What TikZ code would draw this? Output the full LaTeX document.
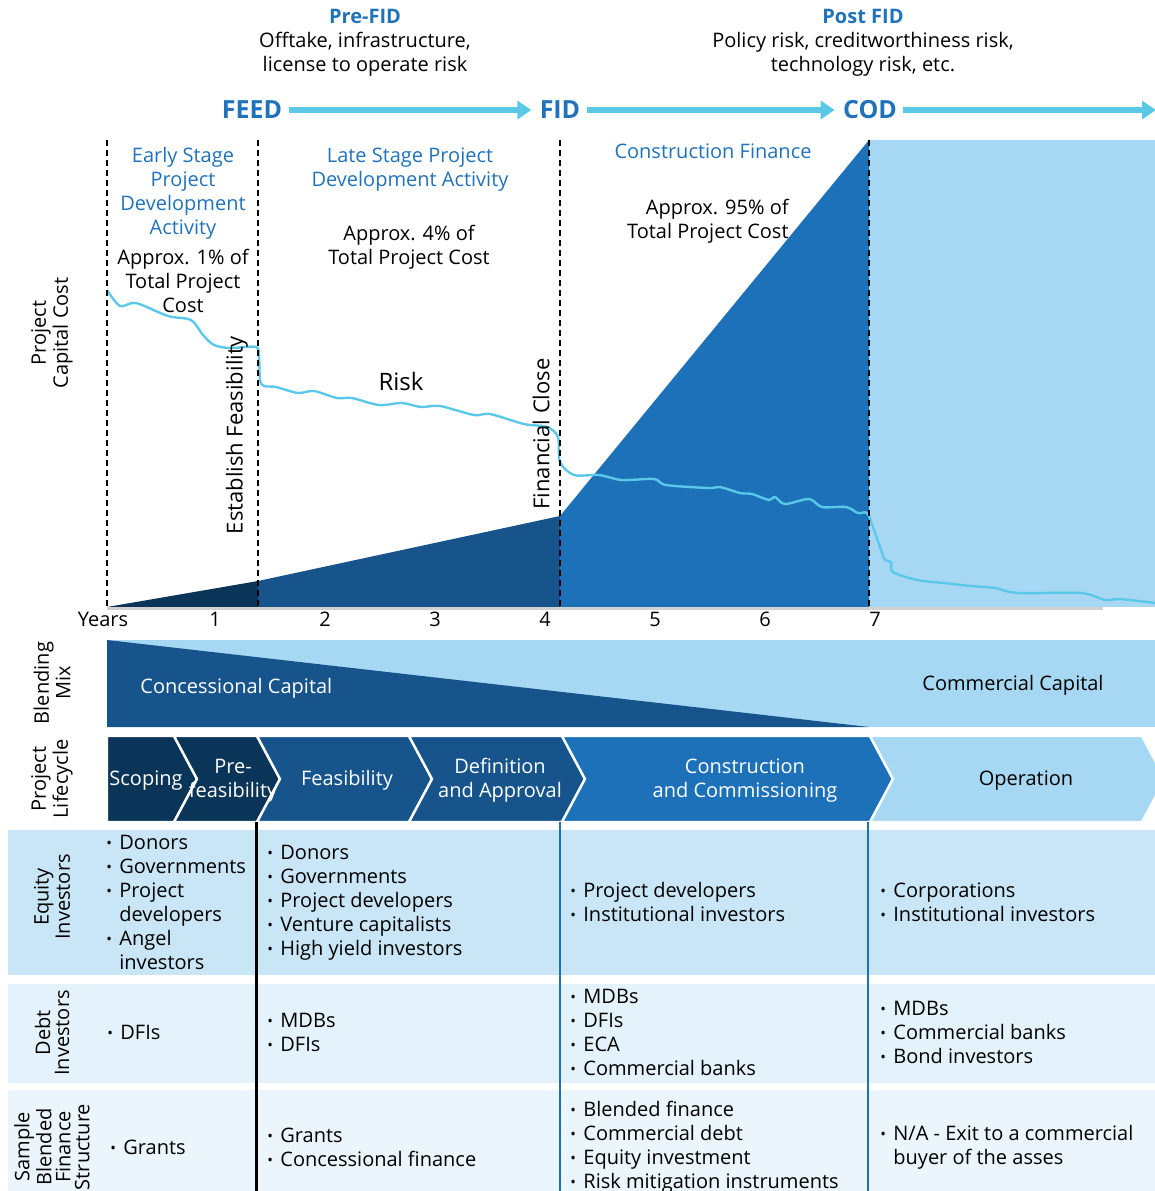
\documentclass[tikz,border=0pt]{standalone}
\usepackage{fontspec}
\setmainfont{Open Sans}
\usepackage{xcolor}
\usepackage{graphicx}
\usetikzlibrary{arrows.meta}
\usetikzlibrary{positioning}

\definecolor{navy}{HTML}{0B3558}
\definecolor{midblue}{HTML}{16548B}
\definecolor{conblue}{HTML}{1D71B8}
\definecolor{skyblue}{HTML}{A6D8F4}
\definecolor{riskcyan}{HTML}{5BC8E8}
\definecolor{labelblue}{HTML}{2072BA}
\definecolor{equityrow}{HTML}{C9E6F7}
\definecolor{debtrow}{HTML}{E4F3FB}
\definecolor{samplerow}{HTML}{EAF6FC}

\newcommand{\bul}{\makebox[0.65em][l]{\raisebox{0.05em}{\scalebox{0.75}{\textbullet}}}}
\newcommand{\hang}{\hspace*{0.65em}}

\tikzset{
  txt/.style={font=\fontsize{10}{12}\selectfont, inner sep=0pt, align=center},
  lowtxt/.style={txt, yshift=-1.25pt},
  bluetxt/.style={lowtxt, text=labelblue},
  milestone/.style={font=\fontsize{12.5}{14}\selectfont\bfseries, text=labelblue, inner sep=0pt},
  phasearrow/.style={riskcyan, line width=3pt, -{Triangle[length=7pt,width=9pt]}, shorten <=3pt, shorten >=4pt},
  gate/.style={dash pattern=on 3pt off 2pt, line width=1pt},
  riskline/.style={riskcyan, line width=1.2pt},
  sidelabel/.style={font=\fontsize{10}{9.5}\selectfont, inner sep=0pt, align=center, rotate=90},
  listtxt/.style={txt, align=left, anchor=west},
  chevtxt/.style={lowtxt, text=white},
}

\begin{document}
\begin{tikzpicture}[x=0.5pt, y=-0.5pt]
\useasboundingbox (0,0) rectangle (1155,1191);

% risk phases on top
\node[lowtxt] (prefid) at (365,40) {{\bfseries\color{labelblue}Pre-FID}\\Offtake, infrastructure,\\license to operate risk};
\node[lowtxt] (postfid) at (863,40) {{\bfseries\color{labelblue}Post FID}\\Policy risk, creditworthiness risk,\\technology risk, etc.};

\node[milestone] (feed) at (252,110) {FEED};
\node[milestone] (fid) at (560,110) {FID};
\node[milestone] (cod) at (870,110) {COD};
\coordinate (arrowend) at (1156,110);
\draw[phasearrow] (feed) -- (fid);
\draw[phasearrow] (fid) -- (cod);
\draw[phasearrow, shorten >=0pt] (cod) -- (arrowend);

% capital cost areas
\fill[navy] (107,607) -- (258,581) -- (258,607) -- cycle;
\fill[midblue] (258,607) -- (258,581) -- (560,516) -- (560,607) -- cycle;
\fill[conblue] (560,607) -- (560,516) -- (869,140) -- (869,607) -- cycle;
\fill[skyblue] (869,140) rectangle (1155,607);
\draw[black!18, line width=1.5pt] (107,608.5) -- (1103,608.5);

\draw[riskline] plot[smooth, tension=0.5] coordinates {(107,290) (120,306) (136,303) (168,316) (191,320) (203,335) (214,345) (230,348) (256,347) (259,357) (260,380) (264,386) (276,387) (298,393) (314,391) (337,398) (352,398) (379,405) (402,403) (421,407) (440,406) (474,415) (490,414) (524,424) (547,427) (558,437) (560,462) (574,475) (599,475) (622,480) (654,479) (666,485) (709,488) (720,487) (740,493) (752,494) (769,500) (775,497) (785,504) (809,499) (822,507) (846,507) (858,513) (867,513) (873,527) (881,550) (885,560) (891,562) (893,572) (917,580) (944,583) (971,586) (995,588) (1018,593) (1081,593) (1105,600) (1120,599) (1155,603)};

\foreach \gx in {107,258,560,869}
  \draw[gate] (\gx,140) -- (\gx,607);

\node[bluetxt] (earlystage) at (183,191) {Early Stage\\Project\\Development\\Activity};
\node[txt] (earlycost) at (183,281) {Approx. 1\% of\\Total Project\\Cost};
\node[bluetxt] (latestage) at (410,167) {Late Stage Project\\Development Activity};
\node[lowtxt] (latecost) at (409,245) {Approx. 4\% of\\Total Project Cost};
\node[bluetxt] (confinance) at (713,149) {Construction Finance};
\node[lowtxt, align=right, anchor=east] (concost) at (789,219) {Approx. 95\% of\\Total Project Cost};

\node[sidelabel] (capcost) at (52,333) {Project\\Capital Cost};
\node[txt, rotate=90, font=\fontsize{11}{13}\selectfont] (feasgate) at (237,435) {Establish Feasibility};
\node[txt, rotate=90, font=\fontsize{11}{13}\selectfont] (closegate) at (541,434) {Financial Close};
\node[txt, font=\fontsize{12}{14}\selectfont] (risk) at (401,381) {Risk};

\node[txt] (years) at (103,619) {Years};
\foreach \yx [count=\i] in {215,325,...,875}
  \node[txt] (yr\i) at (\yx,619) {\i};

% blending mix
\fill[skyblue] (107,640) rectangle (1155,727);
\fill[midblue] (107,640) -- (869,727) -- (107,727) -- cycle;
\node[sidelabel] (blendlbl) at (52,683) {Blending\\Mix};
\node[lowtxt, text=white, anchor=west] (concap) at (140,686) {Concessional Capital};
\node[lowtxt] (comcap) at (1013,683) {Commercial Capital};

% project lifecycle chevrons
\foreach \xl/\xr/\nt/\col in {107/174/0/navy, 174/257/23/navy, 257/409/23/midblue, 409/562/23/midblue, 562/870/23/conblue, 870/1142/23/skyblue}
  \filldraw[fill=\col, draw=white, line width=1.2pt] (\xl,736) -- (\xr,736) -- ({\xr+23},779) -- (\xr,822) -- (\xl,822) -- ({\xl+\nt},779) -- cycle;
\node[sidelabel] (lifecyclelbl) at (52,779) {Project\\Lifecycle};
\node[chevtxt] (scoping) at (146,778) {Scoping};
\node[chevtxt] (prefeas) at (233,778) {Pre-\\feasibility};
\node[chevtxt] (feasibility) at (347,778) {Feasibility};
\node[chevtxt] (definition) at (500,778) {Definition\\and Approval};
\node[chevtxt] (construction) at (745,778) {Construction\\and Commissioning};
\node[lowtxt] (operation) at (1026,778) {Operation};

% investor table
\fill[equityrow] (8,830) rectangle (1155,975);
\fill[debtrow] (8,984) rectangle (1155,1083);
\fill[samplerow] (8,1090) rectangle (1155,1191);
\draw[line width=1.5pt] (256,822) -- (256,1191);
\draw[conblue, line width=1.2pt] (560,822) -- (560,1191);
\draw[conblue, line width=1.2pt] (868,822) -- (868,1191);

\node[sidelabel] (equitylbl) at (52,897) {Equity\\Investors};
\node[sidelabel] (debtlbl) at (52,1033) {Debt\\Investors};
\node[sidelabel] (samplelbl) at (52,1147) {Sample\\Blended\\Finance\\Structure};

\node[listtxt] (eq1) at (106,902) {\bul Donors\\\bul Governments\\\bul Project\\\hang developers\\\bul Angel\\\hang investors};
\node[listtxt] (eq2) at (267,903) {\bul Donors\\\bul Governments\\\bul Project developers\\\bul Venture capitalists\\\bul High yield investors};
\node[listtxt] (eq3) at (570,902) {\bul Project developers\\\bul Institutional investors};
\node[listtxt] (eq4) at (880,902) {\bul Corporations\\\bul Institutional investors};

\node[listtxt] (debt1) at (107,1032) {\bul DFIs};
\node[listtxt] (debt2) at (267,1032) {\bul MDBs\\\bul DFIs};
\node[listtxt] (debt3) at (570,1032) {\bul MDBs\\\bul DFIs\\\bul ECA\\\bul Commercial banks};
\node[listtxt] (debt4) at (880,1032) {\bul MDBs\\\bul Commercial banks\\\bul Bond investors};

\node[listtxt] (blend1) at (110,1147) {\bul Grants};
\node[listtxt] (blend2) at (267,1147) {\bul Grants\\\bul Concessional finance};
\node[listtxt] (blend3) at (570,1147) {\bul Blended finance\\\bul Commercial debt\\\bul Equity investment\\\bul Risk mitigation instruments};
\node[listtxt] (blend4) at (880,1147) {\bul N/A - Exit to a commercial\\\hang buyer of the asses};
\end{tikzpicture}
\end{document}
